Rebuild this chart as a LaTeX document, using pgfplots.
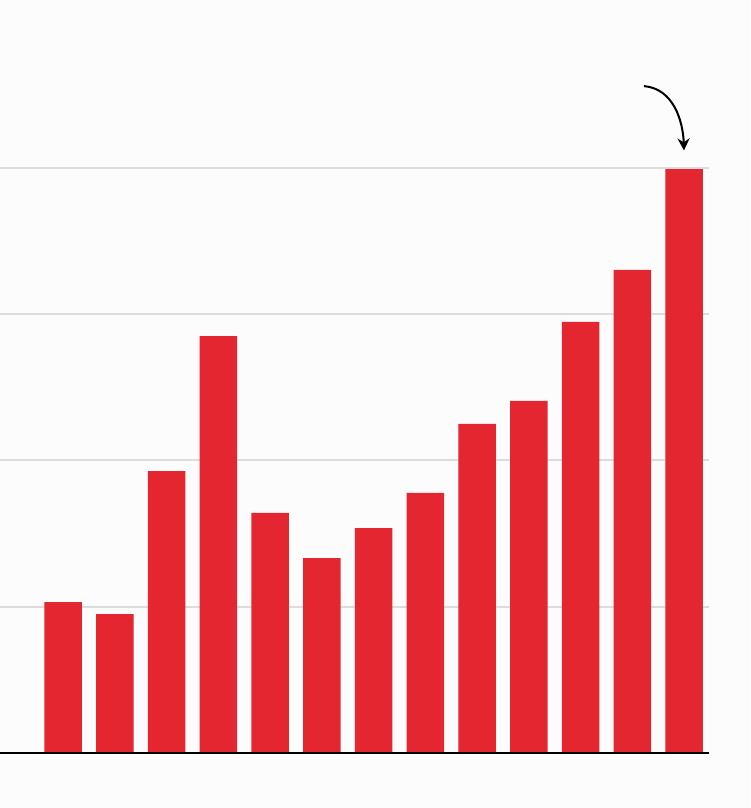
\documentclass[border=0pt]{standalone}
\usepackage{pgfplots}
\pgfplotsset{compat=1.18}
\usetikzlibrary{arrows.meta}
\definecolor{barred}{HTML}{E3262F}
\definecolor{gridgray}{HTML}{DCDCDC}
\begin{document}
\begin{tikzpicture}[x=0.5pt,y=0.5pt]
\fill[white!99!black] (0,-55) rectangle (750,753);
\useasboundingbox (0,-55) rectangle (750,753);
\begin{axis}[
  at={(0pt,0pt)}, anchor=south west,
  scale only axis,
  width=354.5pt, height=329.0625pt,
  xmin=-1.2174, xmax=12.4831,
  ymin=0, ymax=4.5,
  axis x line=bottom, axis y line=left,
  x axis line style={-, black, line width=1pt},
  y axis line style={draw=none},
  xtick=\empty,
  ytick={1,2,3,4}, yticklabels={},
  ymajorgrids, major tick length=0pt,
  grid style={gridgray, line width=1pt},
  clip=false,
]
\addplot[ybar, bar width=0.7246, fill=barred, draw=none] coordinates {
(0,1.032) (1,0.950) (2,1.928) (3,2.851) (4,1.641) (5,1.333) (6,1.538)
(7,1.778) (8,2.250) (9,2.407) (10,2.947) (11,3.303) (12,3.993)
};
\draw[black, line width=1pt] (axis cs:-1.2174,0) -- (axis cs:12.4831,0);
\draw[black, line width=1pt, -{Stealth[length=6pt,width=6pt]}]
  (axis cs:11.227,4.56) to[out=-5, in=92] (axis cs:12,4.12);
\end{axis}
\end{tikzpicture}
\end{document}
